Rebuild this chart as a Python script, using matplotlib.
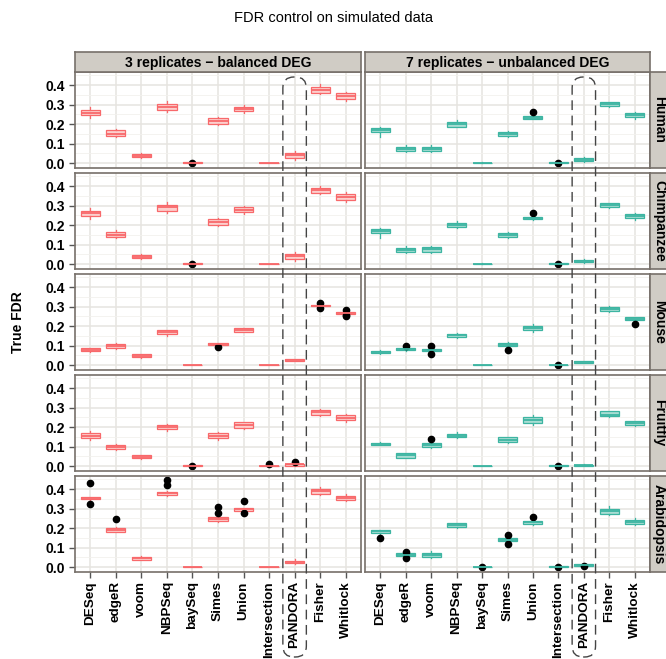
import matplotlib.pyplot as plt
from matplotlib.patches import FancyBboxPatch
from matplotlib.transforms import IdentityTransform

plt.rcParams['font.family'] = ['Liberation Sans', 'DejaVu Sans']

methods = ["DESeq", "edgeR", "voom", "NBPSeq", "baySeq", "Simes", "Union",
           "Intersection", "PANDORA", "Fisher", "Whitlock"]
species = ["Human", "Chimpanzee", "Mouse", "Fruitfly", "Arabidopsis"]
settings = ["3 replicates \u2212 balanced DEG", "7 replicates \u2212 unbalanced DEG"]

# each box: (lower whisker, q1, median, q3, upper whisker), one per method
human_3 = [(0.232, 0.247, 0.258, 0.270, 0.289), (0.132, 0.137, 0.152, 0.169, 0.174),
           (0.027, 0.032, 0.038, 0.045, 0.050), (0.262, 0.271, 0.289, 0.301, 0.318),
           (0.001, 0.001, 0.002, 0.004, 0.005), (0.195, 0.199, 0.215, 0.230, 0.236),
           (0.257, 0.265, 0.277, 0.289, 0.298), (0.000, 0.000, 0.001, 0.002, 0.003),
           (0.018, 0.028, 0.040, 0.050, 0.064), (0.355, 0.362, 0.375, 0.392, 0.405),
           (0.317, 0.328, 0.343, 0.358, 0.365)]
human_7 = [(0.136, 0.158, 0.168, 0.179, 0.186), (0.058, 0.060, 0.071, 0.082, 0.091),
           (0.058, 0.062, 0.073, 0.085, 0.094), (0.183, 0.187, 0.203, 0.211, 0.222),
           (0.000, 0.001, 0.002, 0.003, 0.004), (0.134, 0.139, 0.148, 0.158, 0.163),
           (0.224, 0.228, 0.234, 0.241, 0.243), (0.001, 0.001, 0.002, 0.004, 0.005),
           (0.008, 0.011, 0.018, 0.026, 0.030), (0.288, 0.292, 0.303, 0.311, 0.315),
           (0.227, 0.236, 0.246, 0.256, 0.262)]
chimp_3 = [(0.232, 0.248, 0.262, 0.274, 0.290), (0.132, 0.137, 0.152, 0.167, 0.174),
           (0.027, 0.030, 0.038, 0.045, 0.050), (0.262, 0.272, 0.291, 0.303, 0.318),
           (0.001, 0.001, 0.002, 0.004, 0.005), (0.197, 0.202, 0.216, 0.231, 0.236),
           (0.256, 0.266, 0.279, 0.291, 0.298), (0.000, 0.000, 0.001, 0.002, 0.003),
           (0.018, 0.027, 0.040, 0.053, 0.062), (0.358, 0.364, 0.378, 0.392, 0.400),
           (0.318, 0.328, 0.345, 0.359, 0.368)]
chimp_7 = [(0.136, 0.159, 0.171, 0.181, 0.186), (0.057, 0.061, 0.072, 0.083, 0.091),
           (0.058, 0.064, 0.076, 0.086, 0.094), (0.183, 0.188, 0.202, 0.210, 0.219),
           (0.000, 0.001, 0.002, 0.003, 0.004), (0.134, 0.140, 0.150, 0.159, 0.163),
           (0.227, 0.231, 0.236, 0.241, 0.243), (0.001, 0.001, 0.003, 0.004, 0.006),
           (0.008, 0.011, 0.017, 0.022, 0.026), (0.289, 0.293, 0.303, 0.312, 0.316),
           (0.226, 0.238, 0.247, 0.257, 0.263)]
mouse_3 = [(0.068, 0.071, 0.079, 0.086, 0.090), (0.084, 0.090, 0.100, 0.109, 0.116),
           (0.038, 0.040, 0.048, 0.055, 0.057), (0.152, 0.160, 0.169, 0.178, 0.180),
           (0.000, 0.000, 0.001, 0.002, 0.002), (0.104, 0.105, 0.110, 0.114, 0.116),
           (0.168, 0.172, 0.181, 0.190, 0.193), (0.000, 0.000, 0.001, 0.002, 0.002),
           (0.021, 0.022, 0.026, 0.029, 0.030), (0.300, 0.302, 0.305, 0.310, 0.312),
           (0.261, 0.263, 0.269, 0.274, 0.276)]
mouse_7 = [(0.058, 0.060, 0.067, 0.072, 0.076), (0.074, 0.076, 0.081, 0.088, 0.090),
           (0.070, 0.072, 0.078, 0.084, 0.086), (0.140, 0.145, 0.153, 0.162, 0.165),
           (0.000, 0.001, 0.002, 0.003, 0.003), (0.095, 0.098, 0.105, 0.112, 0.118),
           (0.172, 0.179, 0.191, 0.202, 0.210), (0.001, 0.001, 0.002, 0.003, 0.004),
           (0.011, 0.012, 0.017, 0.021, 0.022), (0.270, 0.276, 0.290, 0.298, 0.302),
           (0.229, 0.231, 0.238, 0.245, 0.247)]
fly_3 = [(0.135, 0.145, 0.157, 0.171, 0.178), (0.084, 0.090, 0.098, 0.107, 0.112),
         (0.038, 0.040, 0.048, 0.055, 0.057), (0.182, 0.190, 0.202, 0.212, 0.218),
         (0.001, 0.001, 0.002, 0.004, 0.005), (0.133, 0.143, 0.155, 0.169, 0.176),
         (0.193, 0.197, 0.212, 0.224, 0.228), (0.000, 0.000, 0.002, 0.003, 0.004),
         (0.002, 0.003, 0.009, 0.012, 0.013), (0.258, 0.264, 0.276, 0.288, 0.293),
         (0.224, 0.238, 0.248, 0.262, 0.268)]
fly_7 = [(0.108, 0.109, 0.116, 0.121, 0.122), (0.041, 0.043, 0.055, 0.066, 0.069),
         (0.093, 0.100, 0.109, 0.117, 0.120), (0.144, 0.147, 0.157, 0.167, 0.176),
         (0.000, 0.000, 0.001, 0.002, 0.003), (0.120, 0.122, 0.134, 0.147, 0.150),
         (0.211, 0.222, 0.236, 0.250, 0.262), (0.001, 0.001, 0.002, 0.004, 0.005),
         (0.002, 0.003, 0.006, 0.008, 0.009), (0.251, 0.255, 0.264, 0.281, 0.285),
         (0.208, 0.209, 0.219, 0.231, 0.232)]
arab_3 = [(0.340, 0.347, 0.353, 0.359, 0.362), (0.178, 0.181, 0.191, 0.200, 0.204),
          (0.036, 0.038, 0.047, 0.053, 0.055), (0.365, 0.372, 0.379, 0.386, 0.390),
          (0.000, 0.000, 0.001, 0.002, 0.002), (0.230, 0.238, 0.248, 0.257, 0.262),
          (0.287, 0.290, 0.297, 0.302, 0.305), (0.000, 0.000, 0.001, 0.002, 0.002),
          (0.016, 0.019, 0.028, 0.034, 0.040), (0.372, 0.376, 0.388, 0.402, 0.412),
          (0.338, 0.343, 0.353, 0.364, 0.374)]
arab_7 = [(0.170, 0.174, 0.183, 0.190, 0.193), (0.053, 0.057, 0.064, 0.071, 0.074),
          (0.047, 0.050, 0.060, 0.072, 0.083), (0.200, 0.205, 0.216, 0.226, 0.228),
          (0.001, 0.001, 0.002, 0.003, 0.004), (0.133, 0.136, 0.141, 0.147, 0.150),
          (0.215, 0.221, 0.229, 0.238, 0.243), (0.001, 0.001, 0.002, 0.004, 0.005),
          (0.004, 0.005, 0.010, 0.014, 0.015), (0.268, 0.274, 0.286, 0.298, 0.313),
          (0.216, 0.222, 0.233, 0.243, 0.253)]

# outlying points
human_3_out = {"baySeq": [0.0]}
human_7_out = {"Union": [0.263], "Intersection": [0.0]}
chimp_3_out = {"baySeq": [0.0]}
chimp_7_out = {"Union": [0.262], "Intersection": [0.0]}
mouse_3_out = {"Simes": [0.095], "Fisher": [0.320, 0.291], "Whitlock": [0.283, 0.258, 0.250]}
mouse_7_out = {"edgeR": [0.099], "voom": [0.099, 0.057], "Simes": [0.080],
               "Intersection": [0.0], "Whitlock": [0.209]}
fly_3_out = {"baySeq": [0.0], "Intersection": [0.009], "PANDORA": [0.021]}
fly_7_out = {"voom": [0.141], "Intersection": [0.0]}
arab_3_out = {"DESeq": [0.431, 0.324], "edgeR": [0.247], "NBPSeq": [0.448, 0.422],
              "Simes": [0.307, 0.280], "Union": [0.340, 0.276]}
arab_7_out = {"DESeq": [0.152], "edgeR": [0.079, 0.045], "baySeq": [0.0],
              "Simes": [0.167, 0.117], "Union": [0.257], "Intersection": [0.0],
              "PANDORA": [0.008]}

boxes = [[human_3, human_7], [chimp_3, chimp_7], [mouse_3, mouse_7],
         [fly_3, fly_7], [arab_3, arab_7]]
outs = [[human_3_out, human_7_out], [chimp_3_out, chimp_7_out],
        [mouse_3_out, mouse_7_out], [fly_3_out, fly_7_out], [arab_3_out, arab_7_out]]

line_cols = ["#F8696B", "#3DB5A2"]
fill_cols = ["#FCCFCD", "#A8DDD3"]
strip_bg = "#D0CCC5"
border = "#77706A"

W, H = 666, 659
fig = plt.figure(figsize=(W / 100, H / 100), dpi=100)


def rect(x, y, w, h):
    # pixel box (top-left origin) -> figure fraction
    return [x / W, 1 - (y + h) / H, w / W, h / H]


col_x = [75, 365]
col_w = [286, 285]
row_top = [72, 173, 274, 375, 476]
row_h = 95.5

axes = []
for r in range(5):
    row_axes = []
    for c in range(2):
        ax = fig.add_axes(rect(col_x[c], row_top[r], col_w[c], row_h))
        stats = []
        for m, b in zip(methods, boxes[r][c]):
            stats.append(dict(whislo=b[0], q1=b[1], med=b[2], q3=b[3], whishi=b[4],
                              fliers=outs[r][c].get(m, [])))
        ax.bxp(stats, positions=range(1, 12), widths=0.75, patch_artist=True,
               showcaps=False,
               boxprops=dict(facecolor=fill_cols[c], edgecolor=line_cols[c], lw=0.9),
               medianprops=dict(color=line_cols[c], lw=1.3),
               whiskerprops=dict(color=line_cols[c], lw=0.9),
               flierprops=dict(marker='o', mfc='black', mec='black', ms=4.5))
        ax.set_xlim(0.4, 11.6)
        ax.set_ylim(-0.0223, 0.4673)
        ax.set_yticks([0, 0.1, 0.2, 0.3, 0.4])
        ax.set_yticks([0.05, 0.15, 0.25, 0.35, 0.45], minor=True)
        ax.set_xticks(range(1, 12))
        ax.set_axisbelow(True)
        ax.grid(which='major', color='#E6E4E0', lw=1.1)
        ax.grid(which='minor', axis='y', color='#F2F1EE', lw=0.6)
        for s in ax.spines.values():
            s.set_color(border)
            s.set_linewidth(1.2)
        ax.tick_params(which='minor', length=0)
        ax.tick_params(which='major', length=4, width=1, color='#555555')
        if c == 0:
            ax.set_yticklabels(["0.0", "0.1", "0.2", "0.3", "0.4"],
                               fontsize=10, fontweight='bold')
        else:
            ax.tick_params(axis='y', length=0, labelleft=False)
        if r == 4:
            ax.set_xticklabels(methods, rotation=90, fontsize=9.7, fontweight='bold')
            ax.tick_params(axis='x', pad=3)
        else:
            ax.tick_params(axis='x', length=0, labelbottom=False)
        row_axes.append(ax)
    axes.append(row_axes)

# column strips
for c in range(2):
    sax = fig.add_axes(rect(col_x[c], 52, col_w[c], 20))
    sax.set_facecolor(strip_bg)
    sax.set_xticks([])
    sax.set_yticks([])
    for s in sax.spines.values():
        s.set_color(border)
        s.set_linewidth(1.2)
    sax.text(0.5, 0.45, settings[c], ha='center', va='center', fontsize=10,
             fontweight='bold', transform=sax.transAxes)

# row strips
for r in range(5):
    sax = fig.add_axes(rect(650, row_top[r], 20, row_h))
    sax.set_facecolor(strip_bg)
    sax.set_xticks([])
    sax.set_yticks([])
    for s in sax.spines.values():
        s.set_color(border)
        s.set_linewidth(1.2)
    sax.text(0.45, 0.5, species[r], ha='center', va='center', fontsize=10,
             fontweight='bold', rotation=-90, transform=sax.transAxes)

fig.text(333 / W, 1 - 18 / H, "FDR control on simulated data", ha='center',
         va='center', fontsize=10.5)
fig.text(18 / W, 1 - 322 / H, "True FDR", ha='center', va='center', rotation=90,
         fontsize=10, fontweight='bold')

# dashed rounded frame around PANDORA in both columns
k = methods.index("PANDORA") + 1
for c in range(2):
    ax = axes[0][c]
    x0 = ax.transData.transform((k - 0.46, 0))[0]
    x1 = ax.transData.transform((k + 0.46, 0))[0]
    frame = FancyBboxPatch((x0, H - 657), x1 - x0, 657 - 77,
                           boxstyle="round,pad=0,rounding_size=11",
                           transform=IdentityTransform(), fill=False,
                           ec='#444444', lw=1.0, ls=(0, (7, 4)), zorder=5)
    fig.add_artist(frame)

fig.savefig("out.png", dpi=100)
